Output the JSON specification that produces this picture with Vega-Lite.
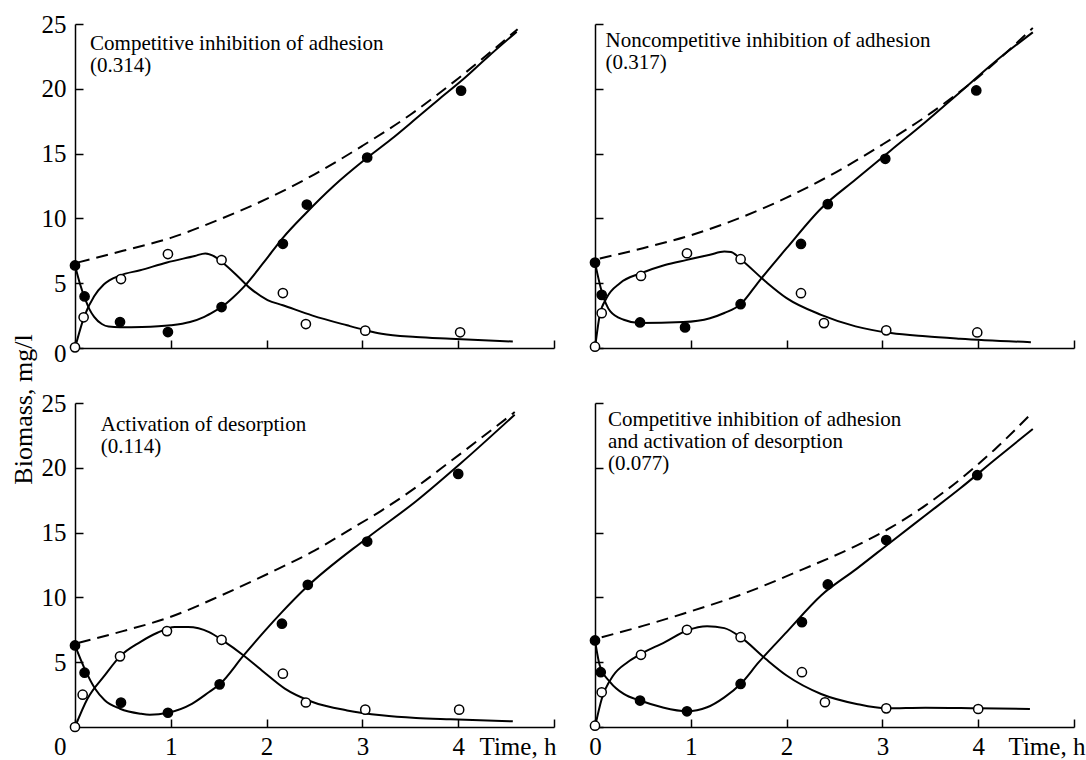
{
  "$schema": "https://vega.github.io/schema/vega-lite/v6.json",
  "background": "white",
  "padding": {"left": 10, "top": 12, "right": 5, "bottom": 5},
  "config": {
    "view": {"stroke": null},
    "font": "Liberation Serif, Times New Roman, DejaVu Serif, serif",
    "axis": {
      "domainColor": "black", "domainWidth": 1.5,
      "tickColor": "black", "tickWidth": 1.5, "tickSize": -8,
      "labelFont": "Liberation Serif, Times New Roman, DejaVu Serif, serif", "labelFontSize": 25, "labelColor": "black",
      "titleFont": "Liberation Serif, Times New Roman, DejaVu Serif, serif", "titleFontSize": 25, "titleFontWeight": "normal", "titleColor": "black",
      "grid": false, "labelFlush": false, "labelOverlap": false, "labelBound": false
    },
    "axisX": {"labelPadding": 15},
    "axisY": {"labelPadding": 17},
    "text": {"font": "Liberation Serif, Times New Roman, DejaVu Serif, serif"}
  },
  "datasets": {
    "fits": [
      {"panel":"TL","series":"filled","t":0,"v":6.37},{"panel":"TL","series":"filled","t":0.05,"v":5.0},{"panel":"TL","series":"filled","t":0.1,"v":3.9},{"panel":"TL","series":"filled","t":0.15,"v":3.0},{"panel":"TL","series":"filled","t":0.2,"v":2.4},{"panel":"TL","series":"filled","t":0.28,"v":1.85},{"panel":"TL","series":"filled","t":0.35,"v":1.65},{"panel":"TL","series":"filled","t":0.47,"v":1.6},{"panel":"TL","series":"filled","t":0.7,"v":1.62},{"panel":"TL","series":"filled","t":1.0,"v":1.75},{"panel":"TL","series":"filled","t":1.2,"v":2.0},{"panel":"TL","series":"filled","t":1.35,"v":2.4},{"panel":"TL","series":"filled","t":1.45,"v":2.8},{"panel":"TL","series":"filled","t":1.53,"v":3.16},{"panel":"TL","series":"filled","t":1.65,"v":3.9},{"panel":"TL","series":"filled","t":1.76,"v":4.7},{"panel":"TL","series":"filled","t":1.97,"v":6.6},{"panel":"TL","series":"filled","t":2.17,"v":8.5},{"panel":"TL","series":"filled","t":2.41,"v":10.4},{"panel":"TL","series":"filled","t":2.7,"v":12.5},{"panel":"TL","series":"filled","t":3.02,"v":14.5},{"panel":"TL","series":"filled","t":3.3,"v":16.1},{"panel":"TL","series":"filled","t":3.56,"v":17.7},{"panel":"TL","series":"filled","t":3.8,"v":19.2},{"panel":"TL","series":"filled","t":4.03,"v":20.6},{"panel":"TL","series":"filled","t":4.3,"v":22.4},{"panel":"TL","series":"filled","t":4.61,"v":24.4},
      {"panel":"TL","series":"open","t":0,"v":0},{"panel":"TL","series":"open","t":0.1,"v":2.5},{"panel":"TL","series":"open","t":0.2,"v":4.0},{"panel":"TL","series":"open","t":0.3,"v":4.9},{"panel":"TL","series":"open","t":0.47,"v":5.6},{"panel":"TL","series":"open","t":0.68,"v":6.0},{"panel":"TL","series":"open","t":0.96,"v":6.6},{"panel":"TL","series":"open","t":1.25,"v":7.1},{"panel":"TL","series":"open","t":1.36,"v":7.3},{"panel":"TL","series":"open","t":1.47,"v":7.0},{"panel":"TL","series":"open","t":1.54,"v":6.6},{"panel":"TL","series":"open","t":1.69,"v":5.6},{"panel":"TL","series":"open","t":1.83,"v":4.6},{"panel":"TL","series":"open","t":2.01,"v":3.7},{"panel":"TL","series":"open","t":2.17,"v":3.3},{"panel":"TL","series":"open","t":2.48,"v":2.5},{"panel":"TL","series":"open","t":2.84,"v":1.75},{"panel":"TL","series":"open","t":3.02,"v":1.4},{"panel":"TL","series":"open","t":3.2,"v":1.1},{"panel":"TL","series":"open","t":3.56,"v":0.85},{"panel":"TL","series":"open","t":3.92,"v":0.72},{"panel":"TL","series":"open","t":4.57,"v":0.5},
      {"panel":"TL","series":"dashed","t":0.03,"v":6.6},{"panel":"TL","series":"dashed","t":0.5,"v":7.5},{"panel":"TL","series":"dashed","t":1.0,"v":8.5},{"panel":"TL","series":"dashed","t":1.5,"v":9.9},{"panel":"TL","series":"dashed","t":2.0,"v":11.5},{"panel":"TL","series":"dashed","t":2.5,"v":13.4},{"panel":"TL","series":"dashed","t":3.0,"v":15.6},{"panel":"TL","series":"dashed","t":3.5,"v":18.0},{"panel":"TL","series":"dashed","t":4.0,"v":20.8},{"panel":"TL","series":"dashed","t":4.62,"v":24.6},

      {"panel":"TR","series":"filled","t":0,"v":6.59},{"panel":"TR","series":"filled","t":0.07,"v":4.36},{"panel":"TR","series":"filled","t":0.16,"v":2.82},{"panel":"TR","series":"filled","t":0.3,"v":2.18},{"panel":"TR","series":"filled","t":0.47,"v":1.92},{"panel":"TR","series":"filled","t":0.92,"v":2.0},{"panel":"TR","series":"filled","t":1.2,"v":2.3},{"panel":"TR","series":"filled","t":1.35,"v":2.7},{"panel":"TR","series":"filled","t":1.52,"v":3.38},{"panel":"TR","series":"filled","t":1.71,"v":5.13},{"panel":"TR","series":"filled","t":2.0,"v":7.7},{"panel":"TR","series":"filled","t":2.36,"v":10.77},{"panel":"TR","series":"filled","t":2.72,"v":13.0},{"panel":"TR","series":"filled","t":3.09,"v":15.26},{"panel":"TR","series":"filled","t":3.45,"v":17.44},{"panel":"TR","series":"filled","t":3.81,"v":19.74},{"panel":"TR","series":"filled","t":4.17,"v":22.05},{"panel":"TR","series":"filled","t":4.57,"v":24.36},
      {"panel":"TR","series":"open","t":0,"v":0},{"panel":"TR","series":"open","t":0.05,"v":2.56},{"panel":"TR","series":"open","t":0.12,"v":3.85},{"panel":"TR","series":"open","t":0.26,"v":5.0},{"panel":"TR","series":"open","t":0.48,"v":5.77},{"panel":"TR","series":"open","t":0.73,"v":6.41},{"panel":"TR","series":"open","t":0.96,"v":6.8},{"panel":"TR","series":"open","t":1.2,"v":7.2},{"panel":"TR","series":"open","t":1.35,"v":7.44},{"panel":"TR","series":"open","t":1.42,"v":7.4},{"panel":"TR","series":"open","t":1.52,"v":6.85},{"panel":"TR","series":"open","t":1.78,"v":5.13},{"panel":"TR","series":"open","t":2.0,"v":3.85},{"panel":"TR","series":"open","t":2.36,"v":2.56},{"panel":"TR","series":"open","t":2.72,"v":1.67},{"panel":"TR","series":"open","t":3.09,"v":1.15},{"panel":"TR","series":"open","t":3.45,"v":0.9},{"panel":"TR","series":"open","t":3.81,"v":0.72},{"panel":"TR","series":"open","t":4.55,"v":0.44},
      {"panel":"TR","series":"dashed","t":0.05,"v":6.9},{"panel":"TR","series":"dashed","t":0.5,"v":7.7},{"panel":"TR","series":"dashed","t":1.0,"v":8.7},{"panel":"TR","series":"dashed","t":1.5,"v":10.0},{"panel":"TR","series":"dashed","t":2.0,"v":11.6},{"panel":"TR","series":"dashed","t":2.5,"v":13.5},{"panel":"TR","series":"dashed","t":3.0,"v":15.7},{"panel":"TR","series":"dashed","t":3.5,"v":18.1},{"panel":"TR","series":"dashed","t":4.0,"v":20.9},{"panel":"TR","series":"dashed","t":4.57,"v":24.7},

      {"panel":"BL","series":"filled","t":0,"v":6.29},{"panel":"BL","series":"filled","t":0.1,"v":4.5},{"panel":"BL","series":"filled","t":0.21,"v":2.95},{"panel":"BL","series":"filled","t":0.31,"v":2.06},{"panel":"BL","series":"filled","t":0.47,"v":1.41},{"panel":"BL","series":"filled","t":0.68,"v":1.03},{"panel":"BL","series":"filled","t":0.78,"v":0.95},{"panel":"BL","series":"filled","t":0.97,"v":1.1},{"panel":"BL","series":"filled","t":1.22,"v":1.79},{"panel":"BL","series":"filled","t":1.4,"v":2.7},{"panel":"BL","series":"filled","t":1.51,"v":3.29},{"panel":"BL","series":"filled","t":1.76,"v":5.52},{"panel":"BL","series":"filled","t":1.97,"v":7.32},{"panel":"BL","series":"filled","t":2.16,"v":8.86},{"panel":"BL","series":"filled","t":2.41,"v":10.74},{"panel":"BL","series":"filled","t":3.05,"v":14.59},{"panel":"BL","series":"filled","t":3.56,"v":17.42},{"panel":"BL","series":"filled","t":4.03,"v":20.37},{"panel":"BL","series":"filled","t":4.59,"v":24.1},
      {"panel":"BL","series":"open","t":0,"v":0},{"panel":"BL","series":"open","t":0.13,"v":2.18},{"panel":"BL","series":"open","t":0.31,"v":3.98},{"panel":"BL","series":"open","t":0.47,"v":5.45},{"panel":"BL","series":"open","t":0.68,"v":6.55},{"panel":"BL","series":"open","t":0.86,"v":7.27},{"panel":"BL","series":"open","t":1.04,"v":7.71},{"panel":"BL","series":"open","t":1.18,"v":7.71},{"panel":"BL","series":"open","t":1.4,"v":7.32},{"panel":"BL","series":"open","t":1.54,"v":6.68},{"panel":"BL","series":"open","t":1.76,"v":5.52},{"panel":"BL","series":"open","t":1.97,"v":4.24},{"panel":"BL","series":"open","t":2.19,"v":2.96},{"panel":"BL","series":"open","t":2.48,"v":1.93},{"panel":"BL","series":"open","t":2.84,"v":1.28},{"panel":"BL","series":"open","t":3.2,"v":0.9},{"panel":"BL","series":"open","t":3.56,"v":0.69},{"panel":"BL","series":"open","t":3.92,"v":0.59},{"panel":"BL","series":"open","t":4.57,"v":0.44},
      {"panel":"BL","series":"dashed","t":0.04,"v":6.5},{"panel":"BL","series":"dashed","t":0.5,"v":7.4},{"panel":"BL","series":"dashed","t":0.96,"v":8.4},{"panel":"BL","series":"dashed","t":1.54,"v":10.2},{"panel":"BL","series":"dashed","t":2.12,"v":12.2},{"panel":"BL","series":"dashed","t":2.5,"v":13.6},{"panel":"BL","series":"dashed","t":2.84,"v":15.1},{"panel":"BL","series":"dashed","t":3.2,"v":16.7},{"panel":"BL","series":"dashed","t":3.56,"v":18.5},{"panel":"BL","series":"dashed","t":3.92,"v":20.5},{"panel":"BL","series":"dashed","t":4.59,"v":24.3},

      {"panel":"BR","series":"filled","t":0,"v":6.68},{"panel":"BR","series":"filled","t":0.05,"v":4.74},{"panel":"BR","series":"filled","t":0.16,"v":3.45},{"panel":"BR","series":"filled","t":0.3,"v":2.55},{"panel":"BR","series":"filled","t":0.47,"v":2.04},{"panel":"BR","series":"filled","t":0.7,"v":1.52},{"panel":"BR","series":"filled","t":0.96,"v":1.21},{"panel":"BR","series":"filled","t":1.17,"v":1.52},{"panel":"BR","series":"filled","t":1.35,"v":2.29},{"panel":"BR","series":"filled","t":1.52,"v":3.32},{"panel":"BR","series":"filled","t":1.71,"v":5.0},{"panel":"BR","series":"filled","t":2.0,"v":7.32},{"panel":"BR","series":"filled","t":2.36,"v":10.15},{"panel":"BR","series":"filled","t":2.73,"v":12.2},{"panel":"BR","series":"filled","t":3.09,"v":14.28},{"panel":"BR","series":"filled","t":3.45,"v":16.34},{"panel":"BR","series":"filled","t":3.81,"v":18.4},{"panel":"BR","series":"filled","t":4.17,"v":20.6},{"panel":"BR","series":"filled","t":4.57,"v":23.0},
      {"panel":"BR","series":"open","t":0,"v":0},{"panel":"BR","series":"open","t":0.07,"v":2.16},{"panel":"BR","series":"open","t":0.19,"v":3.97},{"panel":"BR","series":"open","t":0.34,"v":5.0},{"panel":"BR","series":"open","t":0.48,"v":5.64},{"panel":"BR","series":"open","t":0.73,"v":6.55},{"panel":"BR","series":"open","t":0.96,"v":7.45},{"panel":"BR","series":"open","t":1.17,"v":7.78},{"panel":"BR","series":"open","t":1.35,"v":7.63},{"panel":"BR","series":"open","t":1.52,"v":6.93},{"panel":"BR","series":"open","t":1.78,"v":5.26},{"panel":"BR","series":"open","t":2.0,"v":3.97},{"panel":"BR","series":"open","t":2.36,"v":2.55},{"panel":"BR","series":"open","t":2.73,"v":1.78},{"panel":"BR","series":"open","t":3.04,"v":1.44},{"panel":"BR","series":"open","t":3.45,"v":1.49},{"panel":"BR","series":"open","t":4.0,"v":1.44},{"panel":"BR","series":"open","t":4.54,"v":1.39},
      {"panel":"BR","series":"dashed","t":0.07,"v":6.93},{"panel":"BR","series":"dashed","t":0.5,"v":7.8},{"panel":"BR","series":"dashed","t":0.92,"v":8.74},{"panel":"BR","series":"dashed","t":1.5,"v":10.15},{"panel":"BR","series":"dashed","t":2.18,"v":12.2},{"panel":"BR","series":"dashed","t":2.73,"v":14.0},{"panel":"BR","series":"dashed","t":3.09,"v":15.4},{"panel":"BR","series":"dashed","t":3.45,"v":17.1},{"panel":"BR","series":"dashed","t":3.81,"v":19.1},{"panel":"BR","series":"dashed","t":4.17,"v":21.4},{"panel":"BR","series":"dashed","t":4.57,"v":24.3}
    ],
    "obs": [
      {"panel":"TL","kind":"filled","t":0,"v":6.37},{"panel":"TL","kind":"filled","t":0.1,"v":3.98},{"panel":"TL","kind":"filled","t":0.47,"v":2.0},{"panel":"TL","kind":"filled","t":0.97,"v":1.23},{"panel":"TL","kind":"filled","t":1.53,"v":3.16},{"panel":"TL","kind":"filled","t":2.17,"v":8.04},{"panel":"TL","kind":"filled","t":2.42,"v":11.07},{"panel":"TL","kind":"filled","t":3.05,"v":14.7},{"panel":"TL","kind":"filled","t":4.03,"v":19.86},
      {"panel":"TL","kind":"open","t":0,"v":0.05},{"panel":"TL","kind":"open","t":0.09,"v":2.37},{"panel":"TL","kind":"open","t":0.48,"v":5.32},{"panel":"TL","kind":"open","t":0.97,"v":7.25},{"panel":"TL","kind":"open","t":1.53,"v":6.79},{"panel":"TL","kind":"open","t":2.17,"v":4.24},{"panel":"TL","kind":"open","t":2.41,"v":1.85},{"panel":"TL","kind":"open","t":3.03,"v":1.34},{"panel":"TL","kind":"open","t":4.02,"v":1.21},
      {"panel":"TR","kind":"filled","t":0,"v":6.59},{"panel":"TR","kind":"filled","t":0.07,"v":4.1},{"panel":"TR","kind":"filled","t":0.47,"v":1.97},{"panel":"TR","kind":"filled","t":0.94,"v":1.59},{"panel":"TR","kind":"filled","t":1.52,"v":3.38},{"panel":"TR","kind":"filled","t":2.15,"v":8.03},{"panel":"TR","kind":"filled","t":2.43,"v":11.1},{"panel":"TR","kind":"filled","t":3.03,"v":14.6},{"panel":"TR","kind":"filled","t":3.98,"v":19.87},
      {"panel":"TR","kind":"open","t":0,"v":0.1},{"panel":"TR","kind":"open","t":0.07,"v":2.69},{"panel":"TR","kind":"open","t":0.48,"v":5.56},{"panel":"TR","kind":"open","t":0.96,"v":7.31},{"panel":"TR","kind":"open","t":1.52,"v":6.85},{"panel":"TR","kind":"open","t":2.15,"v":4.23},{"panel":"TR","kind":"open","t":2.39,"v":1.92},{"panel":"TR","kind":"open","t":3.04,"v":1.36},{"panel":"TR","kind":"open","t":3.99,"v":1.2},
      {"panel":"BL","kind":"filled","t":0,"v":6.29},{"panel":"BL","kind":"filled","t":0.1,"v":4.19},{"panel":"BL","kind":"filled","t":0.48,"v":1.88},{"panel":"BL","kind":"filled","t":0.97,"v":1.1},{"panel":"BL","kind":"filled","t":1.51,"v":3.29},{"panel":"BL","kind":"filled","t":2.16,"v":7.97},{"panel":"BL","kind":"filled","t":2.43,"v":10.97},{"panel":"BL","kind":"filled","t":3.05,"v":14.31},{"panel":"BL","kind":"filled","t":4.0,"v":19.53},
      {"panel":"BL","kind":"open","t":0,"v":0},{"panel":"BL","kind":"open","t":0.08,"v":2.49},{"panel":"BL","kind":"open","t":0.47,"v":5.45},{"panel":"BL","kind":"open","t":0.96,"v":7.4},{"panel":"BL","kind":"open","t":1.53,"v":6.73},{"panel":"BL","kind":"open","t":2.17,"v":4.11},{"panel":"BL","kind":"open","t":2.41,"v":1.89},{"panel":"BL","kind":"open","t":3.03,"v":1.34},{"panel":"BL","kind":"open","t":4.01,"v":1.34},
      {"panel":"BR","kind":"filled","t":0,"v":6.68},{"panel":"BR","kind":"filled","t":0.06,"v":4.23},{"panel":"BR","kind":"filled","t":0.47,"v":2.04},{"panel":"BR","kind":"filled","t":0.96,"v":1.21},{"panel":"BR","kind":"filled","t":1.52,"v":3.32},{"panel":"BR","kind":"filled","t":2.16,"v":8.09},{"panel":"BR","kind":"filled","t":2.43,"v":11.0},{"panel":"BR","kind":"filled","t":3.04,"v":14.43},{"panel":"BR","kind":"filled","t":3.99,"v":19.43},
      {"panel":"BR","kind":"open","t":0,"v":0.1},{"panel":"BR","kind":"open","t":0.07,"v":2.68},{"panel":"BR","kind":"open","t":0.48,"v":5.57},{"panel":"BR","kind":"open","t":0.96,"v":7.5},{"panel":"BR","kind":"open","t":1.52,"v":6.93},{"panel":"BR","kind":"open","t":2.16,"v":4.23},{"panel":"BR","kind":"open","t":2.4,"v":1.91},{"panel":"BR","kind":"open","t":3.04,"v":1.44},{"panel":"BR","kind":"open","t":4.0,"v":1.39}
    ],
    "notes": [
      {"panel":"TL","label":"Competitive inhibition of adhesion\n(0.314)","t":0.157,"v":23.0},
      {"panel":"TR","label":"Noncompetitive inhibition of adhesion\n(0.317)","t":0.11,"v":23.2},
      {"panel":"BL","label":"Activation of desorption\n(0.114)","t":0.27,"v":22.85},
      {"panel":"BR","label":"Competitive inhibition of adhesion\nand activation of desorption\n(0.077)","t":0.135,"v":23.25}
    ]
  },
  "columns": 2,
  "spacing": {"row": 55, "column": 41},
  "bounds": "flush",
  "concat": [
    {
      "width": 479, "height": 324,
      "encoding": {
        "x": {"field": "t", "type": "quantitative", "scale": {"domain": [0, 5], "nice": false, "zero": false}, "axis": {"values": [0,1,2,3,4,5], "labels": false, "title": null}},
        "y": {"field": "v", "type": "quantitative", "scale": {"domain": [0, 25], "nice": false}, "axis": {"values": [0,5,10,15,20,25], "labelOffset": {"condition": {"test": "datum.value == 0", "value": 5}, "value": 0}, "title": "Biomass, mg/l", "titleFontSize": 26, "titleAngle": 270, "titleBaseline": "bottom", "titleAlign": "center", "titleX": -39, "titleY": 385}}
      },
      "layer": [
        {"data": {"name": "fits"}, "transform": [{"filter": "datum.panel == 'TL' && datum.series != 'dashed'"}], "mark": {"type": "line", "interpolate": "monotone", "color": "black", "strokeWidth": 2}, "encoding": {"detail": {"field": "series"}}},
        {"data": {"name": "fits"}, "transform": [{"filter": "datum.panel == 'TL' && datum.series == 'dashed'"}], "mark": {"type": "line", "interpolate": "monotone", "color": "black", "strokeWidth": 2, "strokeDash": [12, 7]}},
        {"data": {"name": "obs"}, "transform": [{"filter": "datum.panel == 'TL'"}], "mark": {"type": "point", "shape": "circle", "size": 85, "filled": true, "stroke": "black", "strokeWidth": 1.5, "opacity": 1}, "encoding": {"fill": {"field": "kind", "scale": {"domain": ["filled", "open"], "range": ["black", "white"]}, "legend": null}}},
        {"data": {"name": "notes"}, "transform": [{"filter": "datum.panel == 'TL'"}], "mark": {"type": "text", "align": "left", "baseline": "alphabetic", "fontSize": 21, "lineHeight": 22, "lineBreak": "\n", "color": "black"}, "encoding": {"text": {"field": "label"}}}
      ]
    },
    {
      "width": 479, "height": 324,
      "encoding": {
        "x": {"field": "t", "type": "quantitative", "scale": {"domain": [0, 5], "nice": false, "zero": false}, "axis": {"values": [0,1,2,3,4,5], "labels": false, "title": null}},
        "y": {"field": "v", "type": "quantitative", "scale": {"domain": [0, 25], "nice": false}, "axis": {"values": [0,5,10,15,20,25], "labels": false, "title": null}}
      },
      "layer": [
        {"data": {"name": "fits"}, "transform": [{"filter": "datum.panel == 'TR' && datum.series != 'dashed'"}], "mark": {"type": "line", "interpolate": "monotone", "color": "black", "strokeWidth": 2}, "encoding": {"detail": {"field": "series"}}},
        {"data": {"name": "fits"}, "transform": [{"filter": "datum.panel == 'TR' && datum.series == 'dashed'"}], "mark": {"type": "line", "interpolate": "monotone", "color": "black", "strokeWidth": 2, "strokeDash": [12, 7]}},
        {"data": {"name": "obs"}, "transform": [{"filter": "datum.panel == 'TR'"}], "mark": {"type": "point", "shape": "circle", "size": 85, "filled": true, "stroke": "black", "strokeWidth": 1.5, "opacity": 1}, "encoding": {"fill": {"field": "kind", "scale": {"domain": ["filled", "open"], "range": ["black", "white"]}, "legend": null}}},
        {"data": {"name": "notes"}, "transform": [{"filter": "datum.panel == 'TR'"}], "mark": {"type": "text", "align": "left", "baseline": "alphabetic", "fontSize": 21, "lineHeight": 22, "lineBreak": "\n", "color": "black"}, "encoding": {"text": {"field": "label"}}}
      ]
    },
    {
      "width": 479, "height": 324,
      "encoding": {
        "x": {"field": "t", "type": "quantitative", "scale": {"domain": [0, 5], "nice": false, "zero": false}, "axis": {"values": [0,1,2,3,4,5], "labelExpr": "datum.value > 4.5 ? '' : datum.label", "labelAlign": {"condition": {"test": "datum.value == 0", "value": "right"}, "value": "center"}, "labelOffset": {"condition": {"test": "datum.value == 0", "value": -9}, "value": 0}, "title": "Time, h", "titleX": 404, "titleY": 27, "titleAlign": "left", "titleBaseline": "alphabetic"}},
        "y": {"field": "v", "type": "quantitative", "scale": {"domain": [0, 25], "nice": false}, "axis": {"values": [5,10,15,20,25], "title": null}}
      },
      "layer": [
        {"data": {"name": "fits"}, "transform": [{"filter": "datum.panel == 'BL' && datum.series != 'dashed'"}], "mark": {"type": "line", "interpolate": "monotone", "color": "black", "strokeWidth": 2}, "encoding": {"detail": {"field": "series"}}},
        {"data": {"name": "fits"}, "transform": [{"filter": "datum.panel == 'BL' && datum.series == 'dashed'"}], "mark": {"type": "line", "interpolate": "monotone", "color": "black", "strokeWidth": 2, "strokeDash": [12, 7]}},
        {"data": {"name": "obs"}, "transform": [{"filter": "datum.panel == 'BL'"}], "mark": {"type": "point", "shape": "circle", "size": 85, "filled": true, "stroke": "black", "strokeWidth": 1.5, "opacity": 1}, "encoding": {"fill": {"field": "kind", "scale": {"domain": ["filled", "open"], "range": ["black", "white"]}, "legend": null}}},
        {"data": {"name": "notes"}, "transform": [{"filter": "datum.panel == 'BL'"}], "mark": {"type": "text", "align": "left", "baseline": "alphabetic", "fontSize": 21, "lineHeight": 22, "lineBreak": "\n", "color": "black"}, "encoding": {"text": {"field": "label"}}}
      ]
    },
    {
      "width": 479, "height": 324,
      "encoding": {
        "x": {"field": "t", "type": "quantitative", "scale": {"domain": [0, 5], "nice": false, "zero": false}, "axis": {"values": [0,1,2,3,4,5], "labelExpr": "datum.value > 4.5 ? '' : datum.label", "title": "Time, h", "titleX": 413, "titleY": 27, "titleAlign": "left", "titleBaseline": "alphabetic"}},
        "y": {"field": "v", "type": "quantitative", "scale": {"domain": [0, 25], "nice": false}, "axis": {"values": [0,5,10,15,20,25], "labels": false, "title": null}}
      },
      "layer": [
        {"data": {"name": "fits"}, "transform": [{"filter": "datum.panel == 'BR' && datum.series != 'dashed'"}], "mark": {"type": "line", "interpolate": "monotone", "color": "black", "strokeWidth": 2}, "encoding": {"detail": {"field": "series"}}},
        {"data": {"name": "fits"}, "transform": [{"filter": "datum.panel == 'BR' && datum.series == 'dashed'"}], "mark": {"type": "line", "interpolate": "monotone", "color": "black", "strokeWidth": 2, "strokeDash": [12, 7]}},
        {"data": {"name": "obs"}, "transform": [{"filter": "datum.panel == 'BR'"}], "mark": {"type": "point", "shape": "circle", "size": 85, "filled": true, "stroke": "black", "strokeWidth": 1.5, "opacity": 1}, "encoding": {"fill": {"field": "kind", "scale": {"domain": ["filled", "open"], "range": ["black", "white"]}, "legend": null}}},
        {"data": {"name": "notes"}, "transform": [{"filter": "datum.panel == 'BR'"}], "mark": {"type": "text", "align": "left", "baseline": "alphabetic", "fontSize": 21, "lineHeight": 22, "lineBreak": "\n", "color": "black"}, "encoding": {"text": {"field": "label"}}}
      ]
    }
  ]
}
